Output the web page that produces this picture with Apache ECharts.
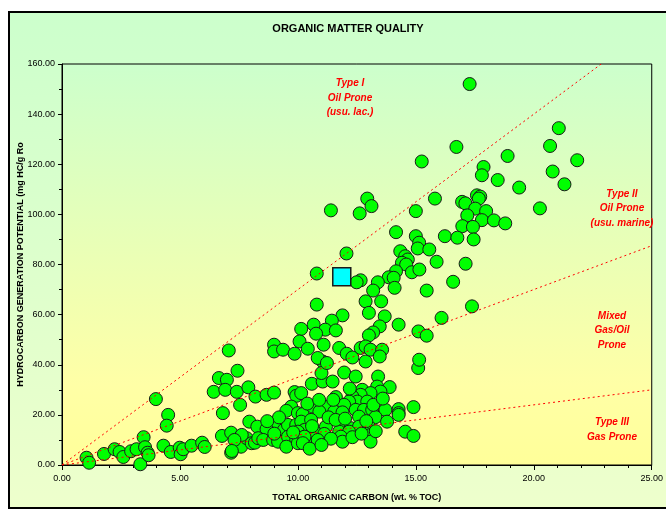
<!DOCTYPE html>
<html>
<head>
<meta charset="utf-8">
<script src="https://cdn.jsdelivr.net/npm/echarts@6/dist/echarts.min.js"></script>
<style>html,body{margin:0;padding:0;background:#fff;}#c{width:666px;height:512px;}</style>
</head>
<body>
<div id="c"></div>
<script>
// ---- data ----
const chartTitle = 'ORGANIC MATTER QUALITY';
const xAxisTitle = 'TOTAL ORGANIC CARBON (wt. % TOC)';
const yAxisTitle = 'HYDROCARBON GENERATION POTENTIAL (mg HC/g Ro';
const xTicks = [0, 5, 10, 15, 20, 25];
const yTicks = [0, 20, 40, 60, 80, 100, 120, 140, 160];
// boundary line slopes (S2 per TOC)
const typeISlope = 7.0;
const typeIISlope = 3.5;
const typeIIISlope = 1.2;
const samplePoint = [[11.86, 75.1]];
const greenPoints = [
[1.04,2.9],[1.15,0.9],[1.78,4.4],[2.23,6.3],[2.44,5.2],[2.6,3.2],[2.93,5.5],[3.16,6.3],[3.32,0.3],[3.46,11.1],
[3.52,7.1],[3.63,4.9],[3.67,3.9],[3.98,26.3],[4.3,7.7],[4.5,20],[4.44,15.7],[4.61,5.2],[4.99,6.9],[5.03,4.3],
[5.14,6.3],[5.49,7.7],[5.94,8.9],[6.05,7.2],[6.43,29.2],[6.65,34.7],[6.99,34],[7.07,45.7],[6.92,30],[7.44,37.6],
[7.41,29.2],[7.55,24],[6.82,20.7],[7.9,31],[8.2,27.3],[7.94,17.3],[6.78,11.6],[7.17,12.9],[7.17,4.9],[7.59,11.6],
[7.59,7.3],[7.83,10.7],[8.04,8.7],[8.18,8.9],[8.28,15.3],
[8.67,28],[8.99,28.9],[9.86,29.1],[9.93,27.6],[9.72,23.3],[9.51,21.6],[10,20.7],[10.2,20.3],[8.67,14.3],[9.16,16.7],
[9.41,14],[9.58,16],[9.93,16],[10.14,17.3],[10.28,14],[7.62,12],[7.31,10],[8.32,10.7],[8.53,10],[8.95,10],
[9.16,9.3],[9.58,11.3],[9.93,10],[9.51,7.3],[10,8.7],[10.35,9.3],[7.2,5.6],
[11.05,41.3],[11.96,36.9],[12.45,35.3],[13.4,35.3],[15.1,38.7],[10.59,32.4],[11.05,33.3],[11.47,33.3],[11.0,36.7],[12.87,41.3],
[13.36,31.3],[13.89,31.1],[13.5,29.3],[12.73,30],[13.08,28.7],[12.66,28],[11.61,27.1],[12.31,27.3],[12.52,25.3],[12.94,25.3],
[12.17,25.3],[11.96,24],[11.26,23.3],[10.63,23.3],[10.14,28.7],[10.91,21.3],[11.54,21.3],[11.89,21],[12.45,22],[12.8,22],
[13.15,22],[13.71,22],[14.27,22.3],[14.9,23.1],[12.59,19.3],[13.29,19.1],[13.78,17.3],[14.27,20.7],[10.56,18],[11.19,15.3],
[11.82,16.7],[12.24,14.7],[12.59,15.3],[13.01,15.3],[10.7,13.3],[11.12,12.4],[11.75,13.3],[12.17,13.3],[13.08,12],[10,13.3],
[10.28,11.3],[10.84,10],[11.82,11.3],[11.89,9.3],[12.31,11.1],[13.08,9.3],[14.55,13.3],[14.9,11.6],[10.21,8.7],
[10.4,24.5],[10.9,26],[11.3,19],[11.6,18],[12.0,18.5],[12.9,17.5],[13.3,13.5],[12.7,12.5],[11.4,10.5],[10.6,15.5],
[11.5,26],[12.2,30.5],[13.2,24],[13.6,26.5],[9.2,19],[9.8,13],[10.5,6.5],[11.0,8],[9.0,12.5],[8.7,17.5],
[10.8,64],[12.87,65.3],[13.53,65.3],[13.01,60.7],[13.68,59.3],[11.89,59.7],[16.09,58.7],[10.67,56],[11.44,57.6],[11.16,54],
[11.61,53.7],[10.77,52.4],[10.14,54.3],[13.47,55.3],[13.19,52.9],[13.01,51.7],[14.27,56],[15.11,53.3],[15.46,51.6],[10.07,49.3],
[10.42,46.4],[11.09,48],[8.99,48],[8.99,45.3],[9.37,46],[9.86,44.4],[11.75,46.7],[12.07,44.4],[12.31,42.9],[12.66,46.7],
[12.87,47.3],[13.08,46],[13.57,46],[13.47,43.3],[10.84,42.7],[11.23,40.7],[15.14,42],[14.27,20],
[15.25,121.1],[12.94,106.3],[13.12,103.3],[11.4,101.6],[12.62,100.4],[15.81,106.3],[15.0,101.3],[16.23,91.3],[14.16,92.9],[15.0,91.3],
[15.14,88.7],[15.08,86.4],[15.57,86],[15.88,81.1],[14.34,85.3],[14.55,83.3],[14.66,82],[14.41,80.7],[14.59,80],[14.83,76.9],
[15.15,78],[14.16,77.3],[13.85,74.9],[14.06,74.7],[14.1,70.7],[13.39,72.9],[13.19,69.6],[12.66,73.7],[12.49,72.9],[15.46,69.6],
[12.06,84.4],[10.8,76.4],
[17.28,152],[21.06,134.4],[16.72,126.9],[20.69,127.3],[18.89,123.3],[21.84,121.6],[17.87,118.9],[17.8,115.6],[18.47,113.7],[20.8,117.1],
[21.3,112],[19.38,110.7],[17.59,107.6],[17.73,107.1],[17.67,106.3],[16.96,105],[17.1,104.4],[17.52,102.3],[17.98,101.3],[17.18,99.6],
[17.8,97.7],[18.31,97.6],[18.79,96.4],[16.97,95.3],[17.42,95],[20.26,102.4],[16.76,90.7],[17.45,90],
[17.11,80.3],[16.58,73.1],[17.38,63.3]
];

const fmt = v => v.toFixed(2);
const lineData = s => [[0, 0], [25, 25 * s]];

const chart = echarts.init(document.getElementById('c'), null, {renderer: 'canvas'});
const plotGrad = new echarts.graphic.LinearGradient(0, 0, 0, 1, [
  {offset: 0, color: '#ccffcc'}, {offset: 0.8, color: '#ffffa6'}, {offset: 1, color: '#ffff99'}
]);
const outerGrad = new echarts.graphic.LinearGradient(0, 0, 0, 1, [
  {offset: 0, color: '#ccffcc'}, {offset: 1, color: '#eeffcc'}
]);
const annFont = 'italic bold 10px "Liberation Sans", Arial, sans-serif';
const txt = (x, y, text, align) => ({
  type: 'text', x: x, y: y, z: 50,
  style: {text: text, font: annFont, fill: '#ff0000', align: align || 'center', verticalAlign: 'middle'}
});
chart.setOption({
  backgroundColor: '#ffffff',
  animation: false,
  textStyle: {fontFamily: '"Liberation Sans", Arial, sans-serif'},
  title: {
    text: chartTitle, left: 343, top: 18, textAlign: 'center',
    textStyle: {fontSize: 11, fontWeight: 'bold', color: '#000'}
  },
  graphic: [
    {type: 'rect', z: -100, shape: {x: 9, y: 12, width: 670, height: 496},
     style: {fill: outerGrad, stroke: '#000', lineWidth: 2}, silent: true},
    txt(350, 83, 'Type I'), txt(350, 98, 'Oil Prone'), txt(350, 112, '(usu. lac.)'),
    txt(622, 194, 'Type II'), txt(622, 208, 'Oil Prone'), txt(622, 223, '(usu. marine)'),
    txt(612, 316, 'Mixed'), txt(612, 330, 'Gas/Oil'), txt(612, 345, 'Prone'),
    txt(612, 422, 'Type III'), txt(612, 437, 'Gas Prone')
  ],
  grid: {
    left: 62, right: 9, top: 64, bottom: 47,
    show: true, backgroundColor: plotGrad, borderColor: '#000', borderWidth: 1
  },
  xAxis: {
    type: 'value', min: xTicks[0], max: xTicks[xTicks.length - 1], interval: 5,
    name: xAxisTitle, nameLocation: 'middle', nameGap: 28, nameMoveOverlap: false,
    nameTextStyle: {fontSize: 9, fontWeight: 'bold', color: '#000'},
    axisLine: {show: true, lineStyle: {color: '#000', width: 1}},
    axisTick: {show: true, length: 5, inside: false, lineStyle: {color: '#000'}},
    minorTick: {show: true, splitNumber: 5, length: 3, lineStyle: {color: '#000'}},
    axisLabel: {formatter: fmt, fontSize: 9, color: '#000', margin: 9},
    splitLine: {show: false}
  },
  yAxis: {
    type: 'value', min: yTicks[0], max: yTicks[yTicks.length - 1], interval: 20,
    name: yAxisTitle, nameLocation: 'middle', nameGap: 37, nameRotate: 90, nameMoveOverlap: false,
    nameTextStyle: {fontSize: 9, fontWeight: 'bold', color: '#000'},
    axisLine: {show: true, lineStyle: {color: '#000', width: 1}},
    axisTick: {show: true, length: 4, lineStyle: {color: '#000'}},
    minorTick: {show: true, splitNumber: 2, length: 3, lineStyle: {color: '#000'}},
    axisLabel: {formatter: fmt, fontSize: 9, color: '#000', margin: 7},
    splitLine: {show: false}
  },
  series: [
    {type: 'scatter', data: greenPoints, symbol: 'circle', symbolSize: 13, z: 3,
     itemStyle: {color: '#00ff00', borderColor: '#1a1a1a', borderWidth: 1, opacity: 1}},
    {type: 'scatter', data: samplePoint, symbol: 'rect', symbolSize: 18, z: 4,
     itemStyle: {color: '#00ffff', borderColor: '#1a1a1a', borderWidth: 1.5, opacity: 1}},
    {type: 'line', data: lineData(typeISlope), symbol: 'none', z: 5, clip: true,
     lineStyle: {color: '#ff0000', width: 1, type: [2, 3]}},
    {type: 'line', data: lineData(typeIISlope), symbol: 'none', z: 5, clip: true,
     lineStyle: {color: '#ff0000', width: 1, type: [2, 3]}},
    {type: 'line', data: lineData(typeIIISlope), symbol: 'none', z: 5, clip: true,
     lineStyle: {color: '#ff0000', width: 1, type: [2, 3]}}
  ]
});
</script>
</body>
</html>
